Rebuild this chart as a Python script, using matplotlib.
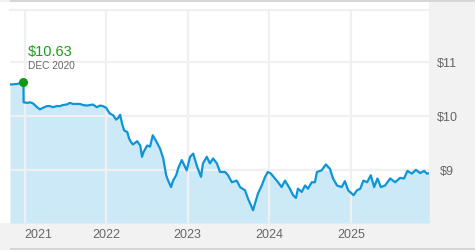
import matplotlib
matplotlib.use("Agg")
import matplotlib.pyplot as plt
from matplotlib.patches import Rectangle
import pandas as pd

plt.rcParams["font.family"] = ["Liberation Sans", "DejaVu Sans"]

COR_LINHA = "#0d95d8"
COR_AREA = "#cbe9f7"
COR_GRADE = "#f0f0f0"
COR_TEXTO = "#666666"
COR_VERDE = "#1d9c1d"

datas = [
    "2020-10-28", "2020-11-28", "2020-12-27", "2020-12-28", "2021-01-13", "2021-01-26",
    "2021-02-08", "2021-02-26", "2021-03-11", "2021-03-25", "2021-04-11", "2021-04-25",
    "2021-05-08", "2021-05-26", "2021-06-09", "2021-06-22", "2021-07-10", "2021-07-23",
    "2021-08-06", "2021-08-24", "2021-09-06", "2021-09-20", "2021-10-07", "2021-10-21",
    "2021-11-03", "2021-11-21", "2021-12-05", "2021-12-18", "2022-01-01", "2022-01-10",
    "2022-01-19", "2022-02-02", "2022-02-15", "2022-02-24", "2022-03-05", "2022-03-14",
    "2022-03-23", "2022-04-06", "2022-04-14", "2022-04-23", "2022-05-02", "2022-05-20",
    "2022-06-03", "2022-06-11", "2022-06-18", "2022-07-04", "2022-07-17", "2022-07-29",
    "2022-08-16", "2022-08-31", "2022-09-14", "2022-09-27", "2022-10-06", "2022-10-19",
    "2022-10-28", "2022-11-11", "2022-11-20", "2022-12-06", "2022-12-28", "2023-01-12",
    "2023-01-26", "2023-02-11", "2023-03-02", "2023-03-11", "2023-03-28", "2023-04-11",
    "2023-04-25", "2023-05-12", "2023-05-26", "2023-06-18", "2023-07-01", "2023-07-18",
    "2023-08-09", "2023-08-24", "2023-09-15", "2023-09-28", "2023-10-15", "2023-10-21",
    "2023-10-30", "2023-11-12", "2023-11-29", "2023-12-14", "2023-12-26", "2024-01-09",
    "2024-01-27", "2024-02-10", "2024-02-26", "2024-03-12", "2024-04-03", "2024-04-17",
    "2024-04-30", "2024-05-09", "2024-05-26", "2024-06-10", "2024-06-23", "2024-07-10",
    "2024-07-24", "2024-08-02", "2024-08-23", "2024-09-11", "2024-09-29", "2024-10-13",
    "2024-10-31", "2024-11-21", "2024-12-05", "2024-12-20", "2025-01-13", "2025-01-28",
    "2025-02-12", "2025-02-26", "2025-03-15", "2025-03-31", "2025-04-15", "2025-04-30",
    "2025-05-15", "2025-06-03", "2025-06-26", "2025-07-18", "2025-08-09", "2025-08-27",
    "2025-09-11", "2025-10-01", "2025-10-19", "2025-11-07", "2025-11-25", "2025-12-07",
    "2025-12-18",
]
precos = [
    10.59, 10.60, 10.63, 10.26, 10.25, 10.26,
    10.24, 10.17, 10.13, 10.16, 10.19, 10.19,
    10.17, 10.19, 10.19, 10.21, 10.22, 10.25,
    10.23, 10.23, 10.23, 10.21, 10.20, 10.21,
    10.22, 10.17, 10.20, 10.19, 10.16, 10.10,
    10.05, 10.02, 9.94, 9.97, 10.03, 9.86,
    9.74, 9.71, 9.59, 9.52, 9.48, 9.54,
    9.46, 9.25, 9.34, 9.46, 9.44, 9.65,
    9.52, 9.40, 9.22, 8.91, 8.81, 8.69,
    8.81, 8.91, 9.04, 9.19, 9.00, 9.25,
    9.31, 9.09, 8.88, 9.13, 9.25, 9.13,
    9.22, 9.13, 8.97, 8.97, 8.91, 8.78,
    8.81, 8.69, 8.63, 8.48, 8.32, 8.26,
    8.39, 8.57, 8.72, 8.88, 8.97, 8.94,
    8.85, 8.78, 8.69, 8.81, 8.66, 8.54,
    8.49, 8.66, 8.60, 8.72, 8.66, 8.78,
    8.78, 8.97, 9.00, 9.11, 9.03, 8.85,
    8.72, 8.69, 8.80, 8.63, 8.54, 8.63,
    8.66, 8.81, 8.78, 8.91, 8.69, 8.85,
    8.69, 8.72, 8.85, 8.78, 8.86, 8.85,
    8.99, 8.94, 9.01, 8.95, 8.99, 8.94,
    8.95,
]

anos = ["2021-01-01", "2022-01-01", "2023-01-01", "2024-01-01", "2025-01-01"]
rotulos_anos = ["2021", "2022", "2023", "2024", "2025"]
niveis = [9, 10, 11]
rotulos_niveis = ["$9", "$10", "$11"]

data_destaque = "2020-12-27"
preco_destaque = 10.63
rotulo_data = "DEC 2020"

y_min, y_max = 8.025, 11.97

x = pd.to_datetime(datas)
anos_dt = pd.to_datetime(anos)

W, H = 475, 250
fig = plt.figure(figsize=(W / 100, H / 100), dpi=100, facecolor="#f2f2f2")
# fundo branco do painel e faixas cinza de borda (atrás dos eixos)
fig.patches.append(Rectangle((0, 27 / H), 429.3 / W, 221 / H, transform=fig.transFigure,
                             facecolor="white", edgecolor="none", zorder=-2))
fig.patches.append(Rectangle((10 / W, 248 / H), 1, 2 / H, transform=fig.transFigure,
                             facecolor="#d6d6d6", edgecolor="none", zorder=-2))
fig.patches.append(Rectangle((10 / W, 0), 1, 2 / H, transform=fig.transFigure,
                             facecolor="#d6d6d6", edgecolor="none", zorder=-2))

ax = fig.add_axes([10 / W, 27 / H, 419.3 / W, 213 / H])
ax.set_facecolor("white")
for lado in ["left", "right", "bottom"]:
    ax.spines[lado].set_visible(False)
ax.spines["top"].set_color(COR_GRADE)
ax.spines["top"].set_linewidth(1.5)

ax.fill_between(x, precos, y_min, color=COR_AREA, linewidth=0, zorder=1)
for a in anos_dt:
    ax.axvline(a, color=COR_GRADE, linewidth=1.6, zorder=2)
for n in niveis:
    ax.axhline(n, color=COR_GRADE, linewidth=1.6, zorder=2)
ax.plot(x, precos, color=COR_LINHA, linewidth=1.6, zorder=3, solid_joinstyle="round")

xd = pd.to_datetime(data_destaque)
ax.plot([xd], [preco_destaque], "o", color="#119a11", markersize=5.5, zorder=4)
ax.annotate(f"${preco_destaque:.2f}", (xd, preco_destaque), xytext=(3.2, 21.5),
            textcoords="offset points", ha="left", va="center",
            fontsize=10.5, color=COR_VERDE, zorder=5)
ax.annotate(rotulo_data, (xd, preco_destaque), xytext=(3.2, 12),
            textcoords="offset points", ha="left", va="center",
            fontsize=7.3, color=COR_TEXTO, zorder=5)

ax.set_xlim(x[0], x[-1])
ax.set_ylim(y_min, y_max)

ax.set_xticks(anos_dt)
ax.set_xticklabels(rotulos_anos)
ax.tick_params(axis="x", length=0, pad=4.3, labelsize=9, labelcolor=COR_TEXTO)
ax.get_xticklabels()[0].set_horizontalalignment("left")

ax.yaxis.tick_right()
ax.set_yticks(niveis)
ax.set_yticklabels(rotulos_niveis)
ax.tick_params(axis="y", length=0, pad=13, labelsize=9, labelcolor=COR_TEXTO)
for t in ax.get_yticklabels():
    t.set_horizontalalignment("center")

fig.savefig("out.png", dpi=100, facecolor=fig.get_facecolor())
